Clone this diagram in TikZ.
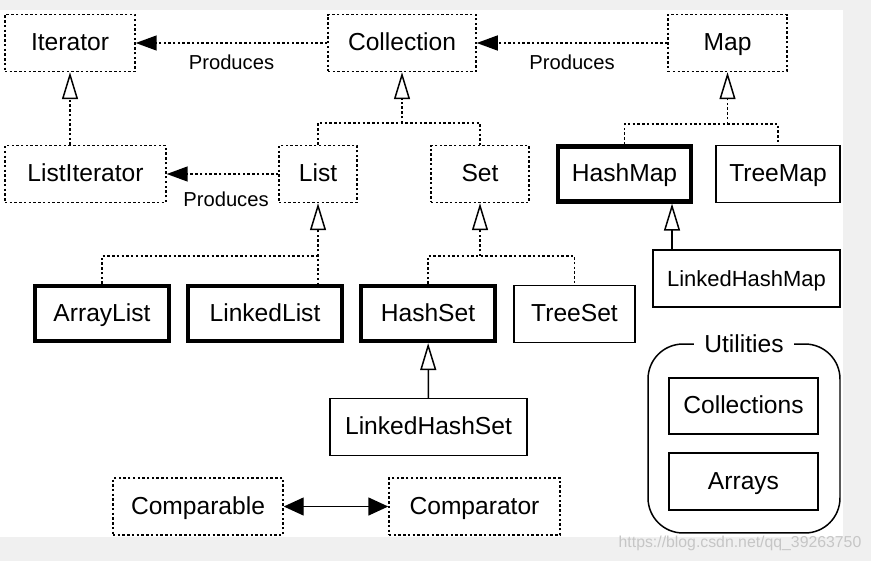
\documentclass[tikz,border=0pt]{standalone}
\usepackage{fontspec}
\setmainfont{Liberation Sans}
\usetikzlibrary{arrows.meta}

\tikzset{
  dotline/.style={dash pattern=on 1.4pt off 1.3pt, line width=0.85pt},
  dotbox/.style={draw, dotline, minimum height=1.14cm, inner sep=2pt, text height=11pt, text depth=2pt},
  thinbox/.style={draw, line width=0.85pt, minimum height=1.14cm, inner sep=2pt, text height=11pt, text depth=2pt},
  thickbox/.style={draw, line width=2.4pt, minimum height=1.1cm, inner sep=2pt, text height=11pt, text depth=2pt},
  inherit/.style={dotline, -{Triangle[open, length=0.54cm, width=0.32cm]}},
  inheritsolid/.style={line width=0.85pt, -{Triangle[open, length=0.54cm, width=0.32cm]}},
  produces/.style={dotline, -{Triangle[length=0.42cm, width=0.3cm]}},
  lbl/.style={font=\fontsize{11.5}{13}\selectfont, inner sep=1pt}
}

\begin{document}
\begin{tikzpicture}[x=0.02cm, y=-0.02cm, font=\fontsize{14}{16}\selectfont]
\fill[gray!12] (0,0) rectangle (871,561);
\fill[white] (0,10) rectangle (843,537);
\useasboundingbox (0,0) rectangle (871,561);

\foreach \nm/\x/\y/\w/\txt in {iter/70/43/130/Iterator, coll/402/43/148/Collection,
    map/727.5/43/119/Map, listit/85.5/174/161/ListIterator, list/318/174/78/List,
    set/480/174/98/Set, cmpble/198/506.5/170/Comparable, cmptor/474.5/506.5/171/Comparator} {
  \node[dotbox, minimum width=\w*0.02cm] (\nm) at (\x,\y) {\txt};
}
\foreach \nm/\x/\y/\w/\txt in {hmap/624.5/174/133/HashMap, alist/102/313.5/134/ArrayList,
    llist/265/313.5/154/LinkedList, hset/428/313.5/134/HashSet} {
  \node[thickbox, minimum width=\w*0.02cm] (\nm) at (\x,\y) {\txt};
}
\foreach \nm/\x/\y/\w/\txt in {tmap/778/174/124/TreeMap, tset/574.5/314/121/TreeSet,
    lhset/428.5/427/197/LinkedHashSet} {
  \node[thinbox, minimum width=\w*0.02cm] (\nm) at (\x,\y) {\txt};
}
\node[thinbox, minimum width=3.74cm, font=\fontsize{12.5}{15}\selectfont] (lhmap) at (746.5,278.5) {LinkedHashMap};

\node[draw, line width=0.85pt, rounded corners=0.7cm, minimum width=3.84cm, minimum height=3.78cm] (util) at (744,438.5) {};
\node[fill=white, inner xsep=6pt, inner ysep=2pt] (utillbl) at (util.north) {Utilities};
\node[thinbox, minimum width=2.98cm, minimum height=1.12cm] (colls) at (743.5,406) {Collections};
\node[thinbox, minimum width=2.98cm] (arrs) at (743.5,481.5) {Arrays};

\draw[produces] (coll) -- (iter) node[lbl, midway, below=5.5pt] {Produces};
\draw[produces] (map) -- (coll) node[lbl, midway, below=5.5pt] {Produces};
\draw[produces] (list) -- (listit) node[lbl, midway, below=8.5pt, xshift=2pt] {Produces};

\draw[inherit] (iter.south |- listit.north) -- (iter.south);

\coordinate (jcoll) at (402,123);
\coordinate (jlist) at (318,256);
\coordinate (jset) at (480,256);
\coordinate (jmap) at (727.5,124);
\coordinate (lhmtop) at ([xshift=-1.49cm]lhmap.north);

\draw[inherit] (jcoll) -- (coll);
\draw[dotline] (list.north) |- (jcoll) -| (set.north);
\draw[inherit] (jlist) -- (list);
\draw[dotline] (alist.north) |- (jlist) -- (jlist |- llist.north);
\draw[inherit] (jset) -- (set);
\draw[dotline] (hset.north) |- (jset) -| (tset.north);
\draw[inherit] (jmap) -- (map);
\draw[dotline] (hmap.north) |- (jmap) -| (tmap.north);

\draw[inheritsolid] (lhmtop) -- (lhmtop |- hmap.south);
\draw[inheritsolid] (lhset) -- (hset);
\draw[line width=0.85pt, {Triangle[length=0.4cm, width=0.36cm]}-{Triangle[length=0.4cm, width=0.36cm]}] (cmpble) -- (cmptor);

\node[text=gray!45, font=\fontsize{9}{10}\selectfont] (wm) at (740,543) {https://blog.csdn.net/qq\_39263750};
\end{tikzpicture}
\end{document}
